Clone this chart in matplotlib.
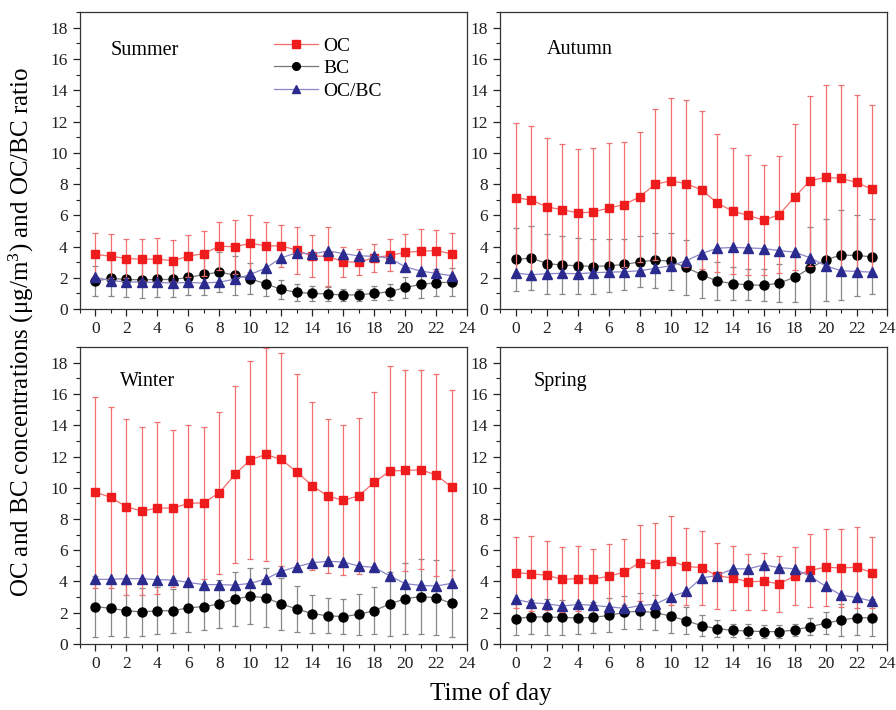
import numpy as np
import matplotlib
matplotlib.use('Agg')
import matplotlib.pyplot as plt
from matplotlib.ticker import MultipleLocator
from matplotlib.lines import Line2D

plt.rcParams['font.family'] = ['Liberation Serif', 'DejaVu Serif']
plt.rcParams['mathtext.fontset'] = 'custom'
plt.rcParams['mathtext.rm'] = 'Liberation Serif'

hours = np.arange(24)

# Summer
summer_oc = [3.49, 3.38, 3.23, 3.19, 3.19, 3.09, 3.38, 3.55, 4.02, 3.98, 4.21, 4.04,
             4.04, 3.77, 3.38, 3.38, 3.02, 3.00, 3.28, 3.43, 3.62, 3.70, 3.74, 3.53]
summer_oc_sd = [1.40, 1.39, 1.22, 1.32, 1.38, 1.31, 1.34, 1.43, 1.55, 1.74, 1.83, 1.51,
                1.32, 1.51, 1.36, 1.90, 0.96, 0.85, 0.91, 1.02, 1.21, 1.43, 1.32, 1.36]
summer_bc = [1.79, 1.96, 1.89, 1.87, 1.89, 1.89, 2.02, 2.21, 2.36, 2.17, 1.94, 1.60,
             1.26, 1.06, 1.00, 0.96, 0.89, 0.91, 1.00, 1.10, 1.38, 1.57, 1.68, 1.72]
summer_bc_sd = [0.95, 1.15, 1.10, 1.15, 1.10, 1.10, 1.15, 1.30, 1.30, 1.25, 1.00, 0.80,
                0.60, 0.55, 0.50, 0.45, 0.40, 0.40, 0.45, 0.50, 0.70, 0.85, 0.85, 0.90]
summer_ratio = [2.04, 1.81, 1.74, 1.72, 1.70, 1.66, 1.70, 1.66, 1.72, 1.91, 2.21, 2.62,
                3.28, 3.60, 3.51, 3.72, 3.55, 3.40, 3.38, 3.26, 2.70, 2.43, 2.28, 2.13]

# Autumn
autumn_oc = [7.11, 6.98, 6.53, 6.36, 6.15, 6.21, 6.47, 6.68, 7.19, 7.98, 8.21, 8.02,
             7.62, 6.79, 6.26, 6.00, 5.68, 6.04, 7.17, 8.21, 8.43, 8.36, 8.11, 7.66]
autumn_oc_sd = [4.80, 4.76, 4.43, 4.21, 4.08, 4.11, 4.15, 4.00, 4.17, 4.83, 5.30, 5.36,
                5.08, 4.42, 4.04, 3.83, 3.51, 3.75, 4.66, 5.43, 5.91, 5.96, 5.61, 5.40]
autumn_bc = [3.17, 3.26, 2.91, 2.81, 2.77, 2.72, 2.77, 2.85, 3.02, 3.13, 3.06, 2.66,
             2.19, 1.79, 1.62, 1.55, 1.51, 1.66, 2.02, 2.62, 3.15, 3.45, 3.43, 3.34]
autumn_bc_sd = [2.02, 2.06, 1.92, 1.85, 1.80, 1.73, 1.68, 1.66, 1.64, 1.76, 1.83, 1.74,
                1.47, 1.22, 1.06, 0.98, 1.02, 1.19, 1.55, 2.64, 2.64, 2.89, 2.57, 2.40]
autumn_ratio = [2.30, 2.19, 2.26, 2.28, 2.26, 2.32, 2.36, 2.38, 2.45, 2.60, 2.77, 3.09,
                3.55, 3.89, 3.94, 3.91, 3.87, 3.74, 3.64, 3.28, 2.77, 2.45, 2.40, 2.36]

# Winter
winter_oc = [9.72, 9.38, 8.78, 8.51, 8.70, 8.70, 9.00, 9.04, 9.68, 10.85, 11.79, 12.13,
             11.81, 11.02, 10.13, 9.47, 9.19, 9.49, 10.34, 11.07, 11.11, 11.15, 10.83, 10.04]
winter_oc_sd = [6.12, 5.82, 5.65, 5.35, 5.48, 5.03, 5.03, 4.88, 5.20, 5.67, 6.35, 6.82,
                6.85, 6.27, 5.39, 4.94, 4.80, 4.99, 5.76, 6.73, 6.42, 6.38, 6.48, 6.25]
winter_bc = [2.39, 2.28, 2.13, 2.05, 2.13, 2.13, 2.32, 2.39, 2.56, 2.88, 3.05, 2.96,
             2.56, 2.24, 1.94, 1.81, 1.75, 1.90, 2.13, 2.56, 2.90, 3.03, 2.96, 2.60]
winter_bc_sd = [1.94, 1.77, 1.68, 1.54, 1.51, 1.41, 1.53, 1.47, 1.56, 1.73, 1.79, 1.89,
                1.64, 1.45, 1.22, 1.13, 1.13, 1.32, 1.49, 2.05, 2.28, 2.39, 2.41, 2.15]
winter_ratio = [4.14, 4.14, 4.18, 4.18, 4.12, 4.09, 3.94, 3.80, 3.80, 3.77, 3.88, 4.16,
                4.65, 4.95, 5.20, 5.29, 5.25, 4.99, 4.90, 4.37, 3.86, 3.75, 3.71, 3.88]

# Spring
spring_oc = [4.57, 4.49, 4.40, 4.13, 4.19, 4.15, 4.34, 4.60, 5.21, 5.13, 5.34, 4.96,
             4.89, 4.36, 4.23, 3.98, 4.02, 3.85, 4.34, 4.72, 4.91, 4.87, 4.91, 4.57]
spring_oc_sd = [2.26, 2.40, 2.22, 2.06, 2.07, 1.96, 2.09, 2.10, 2.43, 2.61, 2.85, 2.49,
                2.37, 2.13, 2.07, 1.79, 1.83, 1.79, 1.85, 2.34, 2.45, 2.49, 2.58, 2.28]
spring_bc = [1.62, 1.74, 1.72, 1.70, 1.66, 1.70, 1.83, 2.02, 2.11, 2.00, 1.79, 1.49,
             1.17, 0.98, 0.87, 0.83, 0.79, 0.79, 0.89, 1.11, 1.32, 1.53, 1.68, 1.68]
spring_bc_sd = [1.07, 1.10, 1.15, 1.13, 1.04, 1.00, 1.09, 1.08, 1.17, 1.11, 1.07, 0.85,
                0.66, 0.55, 0.44, 0.45, 0.43, 0.43, 0.38, 0.54, 0.70, 1.02, 1.11, 1.17]
spring_ratio = [2.85, 2.64, 2.57, 2.43, 2.53, 2.47, 2.38, 2.28, 2.45, 2.55, 3.02, 3.36,
                4.23, 4.38, 4.81, 4.81, 5.06, 4.89, 4.81, 4.34, 3.70, 3.13, 2.98, 2.74]

seasons = ['Summer', 'Autumn', 'Winter', 'Spring']
oc_all = [summer_oc, autumn_oc, winter_oc, spring_oc]
oc_sd_all = [summer_oc_sd, autumn_oc_sd, winter_oc_sd, spring_oc_sd]
bc_all = [summer_bc, autumn_bc, winter_bc, spring_bc]
bc_sd_all = [summer_bc_sd, autumn_bc_sd, winter_bc_sd, spring_bc_sd]
ratio_all = [summer_ratio, autumn_ratio, winter_ratio, spring_ratio]

# colours
oc_col, oc_line = '#ee1c1c', '#f26c6c'
bc_col, bc_line = 'black', '#777777'
r_col, r_line = '#2b2a8e', '#8a86c8'

# axes positions (figure fraction)
positions = [[0.0893, 0.5648, 0.432, 0.418],
             [0.5585, 0.5648, 0.432, 0.418],
             [0.0893, 0.0930, 0.432, 0.418],
             [0.5585, 0.0930, 0.432, 0.418]]
label_pos = [(0.078, 0.87), (0.12, 0.875), (0.103, 0.885), (0.085, 0.885)]

fig = plt.figure(figsize=(8.96, 7.10), dpi=100)

for i in range(4):
    ax = fig.add_axes(positions[i])
    ax.errorbar(hours, bc_all[i], yerr=bc_sd_all[i], color=bc_line, lw=0.9,
                ecolor='#888888', elinewidth=0.9, capsize=2.5, capthick=0.9,
                marker='o', ms=6.5, mfc=bc_col, mec=bc_col, zorder=2)
    ax.errorbar(hours, oc_all[i], yerr=oc_sd_all[i], color=oc_line, lw=0.9,
                ecolor='#f07070', elinewidth=0.9, capsize=2.5, capthick=0.9,
                marker='s', ms=6, mfc=oc_col, mec=oc_col, zorder=3)
    ax.plot(hours, ratio_all[i], color=r_line, lw=0.9, marker='^', ms=7,
            mfc=r_col, mec=r_col, zorder=4)

    ax.set_xlim(-1, 24)
    ax.set_ylim(0, 19)
    ax.xaxis.set_major_locator(MultipleLocator(2))
    ax.xaxis.set_minor_locator(MultipleLocator(1))
    ax.yaxis.set_major_locator(MultipleLocator(2))
    ax.yaxis.set_minor_locator(MultipleLocator(1))
    ax.tick_params(which='major', direction='out', length=5, width=0.9,
                   labelsize=12.5, colors='#222222', pad=4)
    ax.tick_params(which='minor', direction='out', length=3, width=0.8, colors='#222222')
    for s in ax.spines.values():
        s.set_color('#333333')
        s.set_linewidth(0.9)
    ax.text(label_pos[i][0], label_pos[i][1], seasons[i], transform=ax.transAxes,
            fontsize=14.5, va='center', ha='left')

    if i == 0:
        handles = [Line2D([], [], color=oc_line, lw=0.9, marker='s', ms=5.5, mfc=oc_col, mec=oc_col),
                   Line2D([], [], color=bc_line, lw=0.9, marker='o', ms=5.5, mfc=bc_col, mec=bc_col),
                   Line2D([], [], color=r_line, lw=0.9, marker='^', ms=6, mfc=r_col, mec=r_col)]
        ax.legend(handles, ['OC', 'BC', 'OC/BC'], loc='upper left',
                  bbox_to_anchor=(0.455, 0.975), frameon=False, fontsize=14,
                  handlelength=2.3, handletextpad=0.25, labelspacing=0.25)

fig.text(0.024, 0.533, r'OC and BC concentrations ($\mathrm{\mu g/m^3}$) and OC/BC ratio',
         rotation=90, va='center', ha='center', fontsize=18)
fig.text(0.548, 0.023, 'Time of day', ha='center', va='center', fontsize=18)

fig.savefig('out.png', dpi=100)
